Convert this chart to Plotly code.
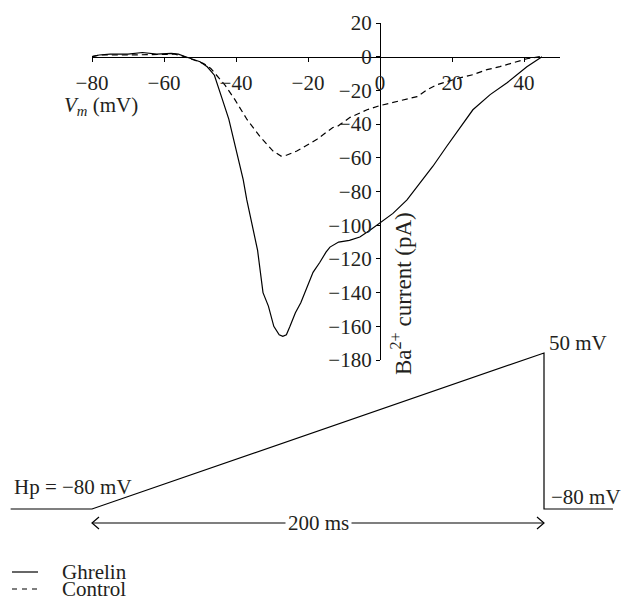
import plotly.graph_objects as go

# ---------------- data ----------------
ghrelin_v = [-80, -78, -75, -70, -66, -62, -58, -56, -54, -52, -50, -48, -46, -44, -42, -40,
             -38, -37, -35, -34, -32.5, -31, -29.5, -28, -27, -26, -25, -23.5, -22, -20.5,
             -18.6, -16.7, -15, -13.9, -11.5, -8.5, -5.6, -2.8, 0, 3.6, 7.5, 11.1, 14.7,
             18.6, 22.2, 25.8, 30.6, 35.3, 40.8, 45]
ghrelin_i = [0, 1, 1.5, 1.5, 2.5, 1.5, 2, 1.5, 0, -1.5, -3, -6, -11, -24, -37, -55,
             -73, -85, -106, -115, -140, -148, -160, -165, -166, -165, -160, -152, -146, -138,
             -128, -122, -116, -113, -110, -109, -107, -103, -98.5, -93, -85, -75, -65,
             -53, -42, -31.5, -22.5, -15.5, -6, 0]

control_v = [-80, -78, -70, -62, -57, -55, -53, -51, -49, -47, -45, -43, -40.3, -36.9, -33.3,
             -29.7, -27.5, -26, -23.1, -20, -17.5, -13.1, -11.9, -8.3, -3.6, 0, 4.7, 7.5,
             10.3, 13.1, 15.8, 18.6, 22.2, 25.8, 29.7, 33.3, 36.9, 40.8, 44.4]
control_i = [0, 1, 1, 1.5, 1.5, 0.5, -1, -2.5, -4, -7, -12, -17, -25.5, -37.4, -47.5,
             -56, -59, -58.5, -56, -52, -49, -42, -41.5, -36, -31.5, -29, -26.7, -25.5,
             -23.7, -19.6, -16.6, -14.8, -12.5, -10.7, -7.7, -5.9, -3.6, -1.2, 0]

x_ticks = [-80, -60, -40, -20, 0, 20, 40]
y_ticks = [20, 0, -20, -40, -60, -80, -100, -120, -140, -160, -180]
x_range = [-80, 50]
y_range = [-180, 20]

# voltage protocol (ramp)
ramp_t = [-36, 0, 200, 200, 230.5]      # ms
ramp_mv = [-80, -80, 50, -80, -80]      # mV

# ---------------- layout helpers ----------------
W, H = 624, 607
FONT = "Liberation Serif"
TXT = "#231f20"
FS = 21


def px(x):
    return x / W


def py(y):
    return 1 - y / H


# main axes domains (pixel anchors)
xdom = [px(92), px(560)]
ydom = [py(360), py(23)]
x0_paper = xdom[0] + (0 - x_range[0]) / (x_range[1] - x_range[0]) * (xdom[1] - xdom[0])
y0_paper = ydom[0] + (0 - y_range[0]) / (y_range[1] - y_range[0]) * (ydom[1] - ydom[0])

# ramp axes: t=0 -> 92px, t=200 -> 544px ; -80 mV -> 509px, 50 mV -> 353px
t_scale = (544 - 92) / 200.0
v_scale = (509 - 353) / 130.0


def t_of(p):
    return (p - 92) / t_scale


def v_of(p):
    return -80 + (509 - p) / v_scale


x2_range = [t_of(0), t_of(W)]
y2_top_px, y2_bot_px = 330, 545
y2_dom = [py(y2_bot_px), py(y2_top_px)]
y2_range = [v_of(y2_bot_px), v_of(y2_top_px)]
arrow_v = v_of(523)

fig = go.Figure()
fig.add_trace(go.Scatter(x=ghrelin_v, y=ghrelin_i, mode="lines", name="Ghrelin",
                         line=dict(color="black", width=1.2), showlegend=False))
fig.add_trace(go.Scatter(x=control_v, y=control_i, mode="lines", name="Control",
                         line=dict(color="black", width=1.2, dash="6px,4px"), showlegend=False))
fig.add_trace(go.Scatter(x=ramp_t, y=ramp_mv, mode="lines", xaxis="x2", yaxis="y2",
                         line=dict(color="black", width=1.2), showlegend=False))

axis_font = dict(family=FONT, size=FS, color=TXT)
fig.update_layout(
    width=W, height=H,
    margin=dict(l=0, r=0, t=0, b=0, pad=0, autoexpand=False),
    showlegend=False,
    paper_bgcolor="white", plot_bgcolor="rgba(0,0,0,0)",
    font=dict(family=FONT, size=FS, color=TXT),
    xaxis=dict(domain=xdom, range=x_range, anchor="free", position=y0_paper,
               showline=True, linecolor="black", linewidth=1.2, automargin=False,
               ticks="outside", ticklen=4, tickwidth=1, tickcolor="black",
               tickvals=x_ticks, ticktext=[f"{v:g}".replace("-", "\u2212") for v in x_ticks],
               tickfont=axis_font, showgrid=False, zeroline=False, ticklabelstandoff=3),
    yaxis=dict(domain=ydom, range=y_range, anchor="free", position=x0_paper,
               showline=True, linecolor="black", linewidth=1.2, automargin=False,
               ticks="outside", ticklen=4, tickwidth=1, tickcolor="black",
               tickvals=y_ticks, ticktext=[f"{v:g}".replace("-", "\u2212") for v in y_ticks],
               tickfont=axis_font, showgrid=False, zeroline=False),
    xaxis2=dict(domain=[0, 1], range=x2_range, anchor="y2", visible=False, automargin=False),
    yaxis2=dict(domain=y2_dom, range=y2_range, anchor="x2", visible=False, automargin=False),
)

annotations = [
    dict(text="<i>V<sub>m</sub></i> (mV)", x=px(101), y=py(106), xref="paper", yref="paper",
         showarrow=False, xanchor="center", yanchor="middle", font=dict(size=FS)),
    dict(text="Ba<sup>2+</sup> current (pA)", x=px(402), y=py(294), xref="paper", yref="paper",
         textangle=-90, showarrow=False, xanchor="center", yanchor="middle", font=dict(size=23)),
    dict(text="Hp = \u221280 mV", x=px(73), y=py(487), xref="paper", yref="paper",
         showarrow=False, xanchor="center", yanchor="middle", font=dict(size=FS)),
    dict(text="50 mV", x=px(547), y=py(343), xref="paper", yref="paper",
         showarrow=False, xanchor="left", yanchor="middle", font=dict(size=FS)),
    dict(text="\u221280 mV", x=px(623), y=py(497), xref="paper", yref="paper",
         showarrow=False, xanchor="right", yanchor="middle", font=dict(size=FS)),
    dict(text="200 ms", x=100, y=arrow_v, xref="x2", yref="y2", showarrow=False,
         xanchor="center", yanchor="middle", bgcolor="white", borderpad=2, font=dict(size=FS)),
    dict(text="Ghrelin", x=px(60), y=py(572), xref="paper", yref="paper",
         showarrow=False, xanchor="left", yanchor="middle", font=dict(size=FS)),
    dict(text="Control", x=px(60), y=py(589), xref="paper", yref="paper",
         showarrow=False, xanchor="left", yanchor="middle", font=dict(size=FS)),
]
fig.update_layout(annotations=annotations)

ah_t = 7 / t_scale
ah_v = 6 / v_scale
shapes = [
    dict(type="line", xref="x2", yref="y2", x0=0, x1=200, y0=arrow_v, y1=arrow_v,
         line=dict(color="black", width=1.2), layer="below"),
    dict(type="path", xref="x2", yref="y2",
         path=f"M {ah_t},{arrow_v + ah_v} L 0,{arrow_v} L {ah_t},{arrow_v - ah_v}",
         line=dict(color="black", width=1.2)),
    dict(type="path", xref="x2", yref="y2",
         path=f"M {200 - ah_t},{arrow_v + ah_v} L 200,{arrow_v} L {200 - ah_t},{arrow_v - ah_v}",
         line=dict(color="black", width=1.2)),
    dict(type="line", xref="paper", yref="paper", x0=px(12), x1=px(38), y0=py(572), y1=py(572),
         line=dict(color="black", width=1.2)),
    dict(type="line", xref="paper", yref="paper", x0=px(12), x1=px(38), y0=py(589), y1=py(589),
         line=dict(color="black", width=1.2, dash="5px,5px")),
]
fig.update_layout(shapes=shapes)

fig.write_html("out.html")
